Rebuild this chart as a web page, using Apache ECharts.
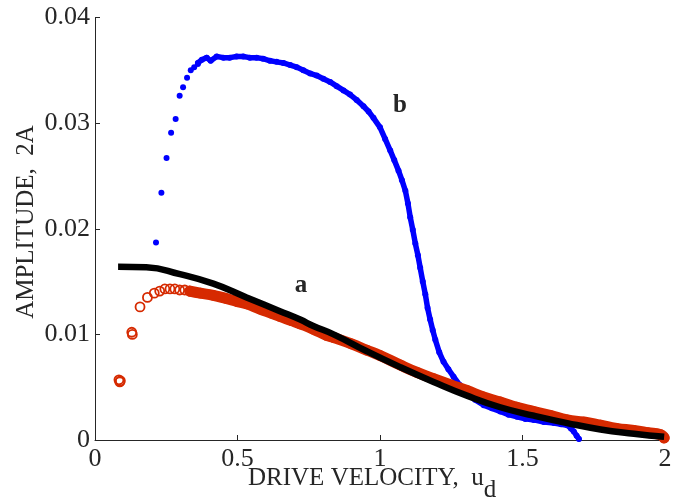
<!DOCTYPE html>
<html>
<head>
<meta charset="utf-8">
<script src="https://cdn.jsdelivr.net/npm/echarts@6/dist/echarts.min.js"></script>
<style>
  html, body { margin: 0; padding: 0; background: #fff; }
  #chart { width: 683px; height: 503px; }
</style>
</head>
<body>
<div id="chart"></div>
<script>
// curve b, sparse dots at the start
const bSparseX = [0.214, 0.233, 0.251, 0.267, 0.283, 0.297, 0.309, 0.323, 0.336, 0.348, 0.361];
const bSparseY = [0.0187, 0.0234, 0.0267, 0.0291, 0.0304, 0.0326, 0.0334, 0.0343, 0.0350, 0.0353, 0.0356];

// curve b, dense part
const bX = [0.361, 0.375, 0.392, 0.406, 0.427, 0.45, 0.473, 0.497, 0.520, 0.543, 0.567, 0.59, 0.614, 0.637, 0.661,
  0.685, 0.708, 0.731, 0.755, 0.778, 0.801, 0.825, 0.848, 0.872, 0.895, 0.918, 0.942, 0.96, 0.977, 1.0, 1.018,
  1.036, 1.05, 1.065, 1.077, 1.089, 1.098, 1.106, 1.115, 1.124, 1.133, 1.141, 1.15, 1.159, 1.167, 1.176, 1.185,
  1.194, 1.208, 1.223, 1.24, 1.258, 1.28, 1.305, 1.334, 1.364, 1.393, 1.422, 1.451, 1.481, 1.51, 1.54, 1.575,
  1.61, 1.635, 1.657, 1.67, 1.68, 1.69, 1.698];
const bY = [0.0357, 0.0360, 0.0362, 0.0359, 0.0363, 0.0362, 0.0362, 0.0363, 0.0363, 0.0362, 0.0362, 0.0361, 0.0359,
  0.0358, 0.0357, 0.0355, 0.0353, 0.0350, 0.0347, 0.0345, 0.0342, 0.0339, 0.0335, 0.0331, 0.0327, 0.0322, 0.0316,
  0.0311, 0.0305, 0.0296, 0.0285, 0.0274, 0.0265, 0.0255, 0.0246, 0.0236, 0.0224, 0.0211, 0.0199, 0.0186, 0.0175,
  0.0163, 0.0150, 0.0138, 0.0125, 0.0114, 0.0104, 0.0095, 0.0083, 0.0074, 0.0067, 0.0060, 0.0052, 0.0045, 0.0038,
  0.0033, 0.0030, 0.0027, 0.0024, 0.0022, 0.0020, 0.0019, 0.0017, 0.0016, 0.0015, 0.0014, 0.0011, 0.0008, 0.0004,
  0.0001];

// measured amplitude (red circles), sparse start
const rSparseX = [0.084, 0.087, 0.089, 0.129, 0.131, 0.158, 0.184, 0.208, 0.227, 0.245, 0.263, 0.28, 0.297, 0.315, 0.333];
const rSparseY = [0.0057, 0.0055, 0.0056, 0.0102, 0.0100, 0.0126, 0.0135, 0.0139, 0.0141, 0.0143, 0.0143, 0.0143,
  0.0142, 0.0142, 0.0141];

// measured amplitude, dense band
const rX = [0.333, 0.37, 0.415, 0.46, 0.5, 0.532, 0.579, 0.62, 0.649, 0.69, 0.72, 0.766, 0.813, 0.837, 0.9, 0.954,
  1.0, 1.071, 1.13, 1.188, 1.25, 1.305, 1.36, 1.422, 1.48, 1.54, 1.6, 1.657, 1.715, 1.774, 1.83, 1.891, 1.94,
  1.985, 1.997];
const rY = [0.0141, 0.0139, 0.0137, 0.0134, 0.0131, 0.0129, 0.0124, 0.0120, 0.0117, 0.0113, 0.0110, 0.0105, 0.0099,
  0.0097, 0.0091, 0.0085, 0.0080, 0.0071, 0.0064, 0.0058, 0.0052, 0.0047, 0.0041, 0.0036, 0.0031, 0.0027, 0.0023,
  0.0019, 0.0017, 0.0014, 0.0011, 0.0009, 0.0007, 0.0005, 0.0002];

// theory curve a (black)
const aX = [0.081, 0.18, 0.298, 0.415, 0.532, 0.649, 0.72, 0.766, 0.837, 0.954, 1.071, 1.188, 1.305, 1.422, 1.54,
  1.657, 1.774, 1.891, 1.997];
const aY = [0.0164, 0.01635, 0.0157, 0.0148, 0.0135, 0.0122, 0.0114, 0.0108, 0.0100, 0.0084, 0.0069, 0.0055, 0.0042,
  0.0031, 0.0023, 0.0016, 0.0010, 0.0006, 0.0003];

const xTicks = [0, 0.5, 1, 1.5, 2];
const yTicks = [0, 0.01, 0.02, 0.03, 0.04];

const zip = (xs, ys) => xs.map((x, i) => [x, ys[i]]);
const font = 'Liberation Serif';
const txt = '#262626';
const red = '#d62a00';
const blue = '#0000ff';

const chart = echarts.init(document.getElementById('chart'));
chart.setOption({
  animation: false,
  grid: { left: 95, right: 18, top: 17.5, bottom: 63 },
  xAxis: {
    type: 'value',
    min: xTicks[0],
    max: xTicks[xTicks.length - 1],
    interval: 0.5,
    splitLine: { show: false },
    axisLine: { lineStyle: { color: txt, width: 1 } },
    axisTick: { inside: true, length: 5, lineStyle: { color: txt } },
    axisLabel: { color: txt, fontFamily: font, fontSize: 26, margin: 6 },
  },
  yAxis: {
    type: 'value',
    min: yTicks[0],
    max: yTicks[yTicks.length - 1],
    interval: 0.01,
    splitLine: { show: false },
    axisLine: { show: true, lineStyle: { color: txt, width: 1 } },
    axisTick: { show: true, inside: true, length: 5, lineStyle: { color: txt } },
    axisLabel: { color: txt, fontFamily: font, fontSize: 26, margin: 5 },
  },
  series: [
    {
      name: 'b-line',
      type: 'line',
      data: zip(bX, bY),
      showSymbol: false,
      lineStyle: { color: blue, width: 5.5, cap: 'round', join: 'round' },
      z: 2,
    },
    {
      name: 'b',
      type: 'scatter',
      data: zip(bSparseX, bSparseY).concat(zip(bX, bY)),
      symbolSize: 6,
      itemStyle: { color: blue, opacity: 1 },
      z: 2,
    },
    {
      name: 'data-line',
      type: 'line',
      data: zip(rX, rY),
      showSymbol: false,
      smooth: true,
      lineStyle: { color: red, width: 11, cap: 'round' },
      z: 3,
    },
    {
      name: 'data',
      type: 'scatter',
      data: zip(rSparseX, rSparseY).concat(zip(rX, rY)),
      symbolSize: 9,
      itemStyle: { color: 'rgba(0,0,0,0)', borderColor: red, borderWidth: 1.8, opacity: 1 },
      z: 3,
    },
    {
      name: 'a',
      type: 'line',
      data: zip(aX, aY),
      smooth: true,
      showSymbol: false,
      lineStyle: { color: '#000', width: 6.5, cap: 'butt' },
      z: 4,
    },
  ],
  graphic: [
    {
      type: 'text',
      left: 248,
      top: 466,
      style: {
        text: 'DRIVE VELOCITY,  u{sub|d}',
        fill: txt,
        font: '25px ' + font,
        rich: { sub: { fontSize: 25, fontFamily: font, fill: txt, padding: [24, 0, 0, 0] } },
      },
    },
    {
      type: 'text',
      x: 26,
      y: 222,
      rotation: Math.PI / 2,
      style: {
        text: 'AMPLITUDE,  2A',
        fill: txt,
        font: '25px ' + font,
        align: 'center',
        verticalAlign: 'middle',
      },
    },
    {
      type: 'text',
      x: 301,
      y: 286,
      style: { text: 'a', fill: txt, font: 'bold 25px ' + font, align: 'center', verticalAlign: 'middle' },
    },
    {
      type: 'text',
      x: 400,
      y: 106,
      style: { text: 'b', fill: txt, font: 'bold 25px ' + font, align: 'center', verticalAlign: 'middle' },
    },
  ],
});
</script>
</body>
</html>
